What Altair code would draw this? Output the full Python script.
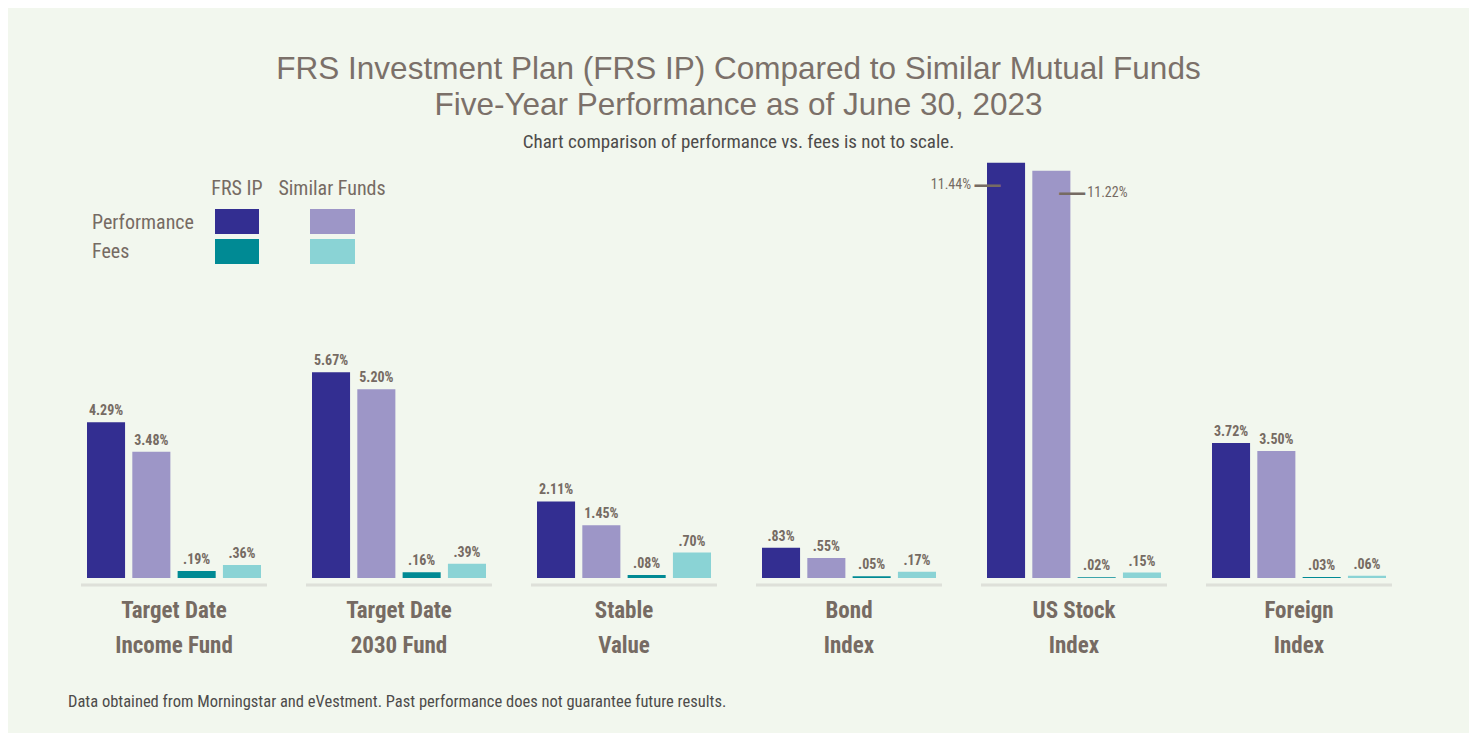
import altair as alt
import pandas as pd

# ---- data ----
categories = ["Target Date|Income Fund", "Target Date|2030 Fund", "Stable|Value",
              "Bond|Index", "US Stock|Index", "Foreign|Index"]
series = ["FRS IP Performance", "Similar Funds Performance", "FRS IP Fees", "Similar Funds Fees"]
colors = ["#332e91", "#9d96c7", "#008a94", "#8ad3d5"]
frs_perf = [4.29, 5.67, 2.11, 0.83, 11.44, 3.72]
sim_perf = [3.48, 5.20, 1.45, 0.55, 11.22, 3.50]
frs_fee = [0.19, 0.16, 0.08, 0.05, 0.02, 0.03]
sim_fee = [0.36, 0.39, 0.70, 0.17, 0.15, 0.06]

title_lines = ["FRS Investment Plan (FRS IP) Compared to Similar Mutual Funds",
               "Five-Year Performance as of June 30, 2023"]
subtitle = "Chart comparison of performance vs. fees is not to scale."
footer = "Data obtained from Morningstar and eVestment. Past performance does not guarantee future results."
legend_cols = ["FRS IP", "Similar Funds"]
legend_rows = ["Performance", "Fees"]


def fmt(v):
    s = f"{v:.2f}%"
    return s[1:] if v < 1 else s


rows = []
for i, c in enumerate(categories):
    for s, vals in zip(series, [frs_perf, sim_perf, frs_fee, sim_fee]):
        rows.append({"cat": c, "series": s, "value": vals[i], "label": fmt(vals[i])})
df = pd.DataFrame(rows)
cat_df = pd.DataFrame({"cat": categories})

W, H = 1461, 725
COND = "Liberation Sans Narrow, Roboto Condensed, DejaVu Sans Condensed, sans-serif"
TFONT = "Liberation Sans, sans-serif"
BROWN = "#766b63"
DARK = "#4d4b4a"

x = alt.X("cat:N", sort=categories, axis=None,
          scale=alt.Scale(domain=categories, range=[79, 1378], paddingInner=0.2267, paddingOuter=0))
xo = alt.XOffset("series:N", sort=series,
                 scale=alt.Scale(domain=series, paddingInner=0.16, paddingOuter=0))
y = alt.Y("value:Q", axis=None, scale=alt.Scale(domain=[-4.27, 15.70], nice=False, zero=False))
color = alt.Color("series:N", scale=alt.Scale(domain=series, range=colors), legend=None)

base = alt.Chart(df)
bars = base.mark_bar().encode(x=x, xOffset=xo, y=y, y2=alt.datum(0), color=color)

is_side = "datum.cat == 'US Stock|Index' && (datum.series == 'FRS IP Performance' || datum.series == 'Similar Funds Performance')"
labels = base.transform_filter("!(" + is_side + ")").mark_text(
    font=COND, fontSize=14, fontWeight="bold", color=BROWN, baseline="alphabetic", dy=-7
).encode(x=x, xOffset=xo, y=y, text="label:N")

left_side = base.transform_filter("datum.cat == 'US Stock|Index' && datum.series == 'FRS IP Performance'")
right_side = base.transform_filter("datum.cat == 'US Stock|Index' && datum.series == 'Similar Funds Performance'")
side_l_text = left_side.mark_text(font=COND, fontSize=14, color=BROWN, align="right",
                                  baseline="middle", dx=-35, dy=22).encode(x=x, xOffset=xo, y=y, text="label:N")
side_l_dash = left_side.mark_text(text="\u2014", font="Liberation Sans", fontWeight="bold", fontSize=26,
                                  color=BROWN, align="center", baseline="middle", dx=-18.5, dy=22
                                  ).encode(x=x, xOffset=xo, y=y)
side_r_text = right_side.mark_text(font=COND, fontSize=14, color=BROWN, align="left",
                                   baseline="middle", dx=36, dy=22).encode(x=x, xOffset=xo, y=y, text="label:N")
side_r_dash = right_side.mark_text(text="\u2014", font="Liberation Sans", fontWeight="bold", fontSize=26,
                                   color=BROWN, align="center", baseline="middle", dx=21, dy=22
                                   ).encode(x=x, xOffset=xo, y=y)

base_lines = alt.Chart(cat_df).mark_tick(orient="horizontal", size=186, thickness=3, color="#d6d5d0").encode(
    x=x, y=alt.value(577))
cat_text = alt.Chart(cat_df).mark_text(font=COND, fontSize=23, fontWeight="bold", color=BROWN, lineBreak="|",
                                       lineHeight=35, baseline="alphabetic").encode(
    x=x, y=alt.value(610), text="cat:N")

one = alt.Data(values=[{}])


def txt(t, xv, yv, size, col, font=COND, align="center", weight="normal"):
    return alt.Chart(one).mark_text(text=t, font=font, fontSize=size, color=col, align=align,
                                    fontWeight=weight, baseline="alphabetic").encode(
        x=alt.value(xv), y=alt.value(yv))


def rect(x1, x2, y1, y2, col):
    return alt.Chart(one).mark_rect(color=col).encode(
        x=alt.value(x1), x2=alt.value(x2), y=alt.value(y1), y2=alt.value(y2))


annos = [
    txt(title_lines[0], W / 2, 71, 31.5, "#7b7069", TFONT),
    txt(title_lines[1], W / 2, 107, 31.5, "#7b7069", TFONT),
    txt(subtitle, W / 2, 140, 19, DARK),
    txt(footer, 60, 699, 16.5, DARK, align="left"),
    txt(legend_cols[0], 229, 187, 20, BROWN),
    txt(legend_cols[1], 324, 187, 20, BROWN),
    txt(legend_rows[0], 84, 221, 20, BROWN, align="left"),
    txt(legend_rows[1], 84, 250, 20, BROWN, align="left"),
    rect(207, 251, 201, 226, colors[0]),
    rect(302, 347, 201, 226, colors[1]),
    rect(207, 251, 231, 256, colors[2]),
    rect(302, 347, 231, 256, colors[3]),
]

chart = alt.layer(
    base_lines, bars, labels, side_l_dash, side_r_dash, side_l_text, side_r_text, cat_text, *annos
).properties(
    width=W, height=H, padding=0, autosize=alt.AutoSizeParams(type="none"), background="#f2f7ee"
).configure_view(stroke=None)

chart.save("out.html", embed_options={"renderer": "svg", "actions": False})
